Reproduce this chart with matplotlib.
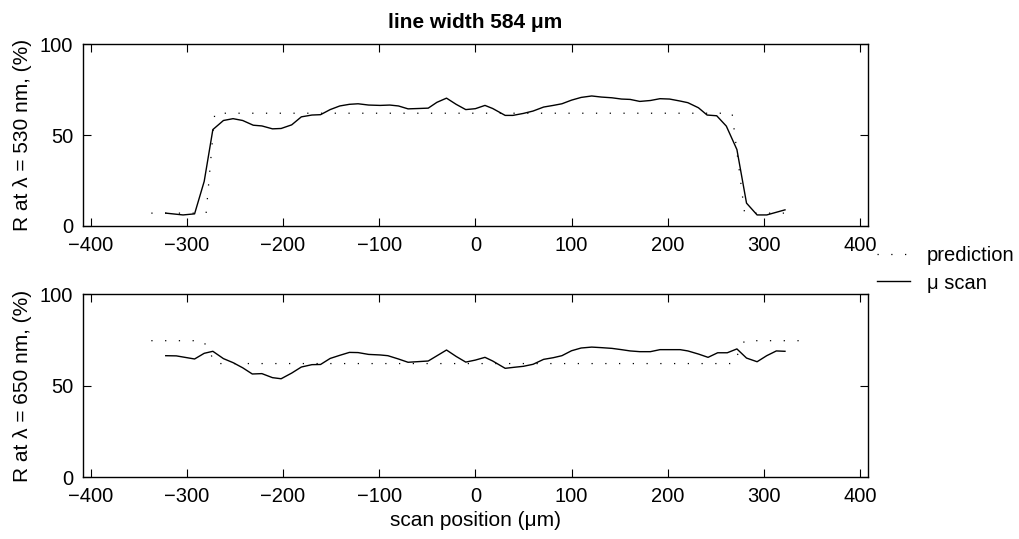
import matplotlib
matplotlib.use("Agg")
import matplotlib.pyplot as plt

plt.rcParams['font.family'] = ['Liberation Sans', 'DejaVu Sans']
plt.rcParams['font.size'] = 15

# measured scan, lambda = 530 nm
x_top = [-322, -304, -292, -282, -273, -262, -252, -242, -231, -222,
         -211, -202, -191, -181, -170, -161, -151, -141, -131, -122,
         -111, -99, -89, -80, -70, -59, -49, -40, -30, -20,
         -10, 0, 10, 18, 31, 39, 50, 60, 71, 81,
         90, 100, 110, 121, 131, 142, 152, 161, 171, 182,
         192, 202, 213, 221, 232, 241, 251, 261, 272, 282,
         293, 303, 322]
r_top = [7, 6, 6.6, 24.5, 53, 58, 59, 58, 55.4, 55,
         53.4, 53.6, 55.6, 60, 61, 61.2, 64, 66, 66.9, 67.2,
         66.5, 66.3, 66.5, 66, 64.4, 64.6, 64.8, 68, 70.3, 66.9,
         64, 64.5, 66.3, 64.6, 60.8, 60.8, 61.9, 63.2, 65.4, 66.3,
         67.2, 69.2, 70.7, 71.5, 70.9, 70.5, 69.8, 69.6, 68.5, 69,
         70, 69.8, 68.7, 67.8, 65, 61, 60.6, 54.9, 42, 12.5,
         6, 6, 8.8]

# measured scan, lambda = 650 nm
x_bot = [-322, -311, -292, -282, -273, -262, -252, -242, -232, -222,
         -211, -202, -191, -181, -170, -161, -151, -141, -131, -122,
         -111, -99, -91, -80, -70, -49, -30, -20, -10, 0,
         10, 18, 31, 41, 50, 60, 71, 81, 90, 100,
         110, 121, 131, 142, 152, 161, 171, 182, 192, 202,
         213, 221, 232, 242, 252, 262, 272, 282, 293, 303,
         313, 322]
r_bot = [66.3, 66.2, 64.5, 67.6, 68.7, 64.7, 62.5, 59.7, 56.3, 56.5,
         54.3, 53.7, 56.8, 60.1, 61.4, 61.5, 64.8, 66.5, 68.1, 68,
         67, 66.7, 66.3, 64.5, 62.7, 63.4, 69.4, 65.9, 62.8, 63.9,
         65.4, 63.4, 59.4, 60, 60.5, 61.6, 64.3, 65.2, 66.3, 69,
         70.5, 71, 70.7, 70.3, 69.6, 68.9, 68.5, 68.5, 69.6, 69.6,
         69.6, 68.9, 67.2, 65.4, 67.9, 67.9, 70, 65, 63, 66.3,
         68.9, 68.7]

# model prediction
pred_top_x = [-337, -280, -271, 267, 280, 332]
pred_top_r = [7, 7, 62, 62, 7, 7]
pred_bot_x = [-337, -283, -270, 268, 280, 339]
pred_bot_r = [74.5, 74.5, 62, 62, 74.5, 74.5]

xticks = [-400, -300, -200, -100, 0, 100, 200, 300, 400]
xticklabels = ['−400', '−300', '−200', '−100', '0', '100', '200', '300', '400']

fig = plt.figure(figsize=(10.19, 5.39), dpi=100)
ax1 = fig.add_axes([0.0815, 0.581, 0.770, 0.337])
ax2 = fig.add_axes([0.0815, 0.115, 0.770, 0.3395])

dot = (0, (1, 10))
for ax, px, pr, sx, sr, lab in [
        (ax1, pred_top_x, pred_top_r, x_top, r_top, 'R at λ = 530 nm, (%)'),
        (ax2, pred_bot_x, pred_bot_r, x_bot, r_bot, 'R at λ = 650 nm, (%)')]:
    l1, = ax.plot(px, pr, color='k', lw=0.9, linestyle=dot, label='prediction')
    l2, = ax.plot(sx, sr, color='k', lw=1.0, label='μ scan')
    ax.set_xlim(-408, 408)
    ax.set_ylim(0, 100)
    ax.set_xticks(xticks)
    ax.set_xticklabels(xticklabels)
    ax.set_yticks([0, 50, 100])
    ax.tick_params(direction='in', length=5.5, width=0.8, top=True, right=True,
                   labelsize=14.5, pad=7)
    for s in ax.spines.values():
        s.set_linewidth(1.0)
    ax.set_ylabel(lab, labelpad=6)

ax1.set_title('line width 584 μm', fontweight='bold', fontsize=15, pad=12)
ax2.set_xlabel('scan position (μm)', labelpad=4)

fig.legend(handles=[l1, l2], loc='center left', bbox_to_anchor=(0.861, 0.5),
           frameon=False, handlelength=1.6, handletextpad=0.85, labelspacing=0.4,
           borderaxespad=0, borderpad=0, fontsize=14.5)

fig.savefig('out.png', dpi=100)
